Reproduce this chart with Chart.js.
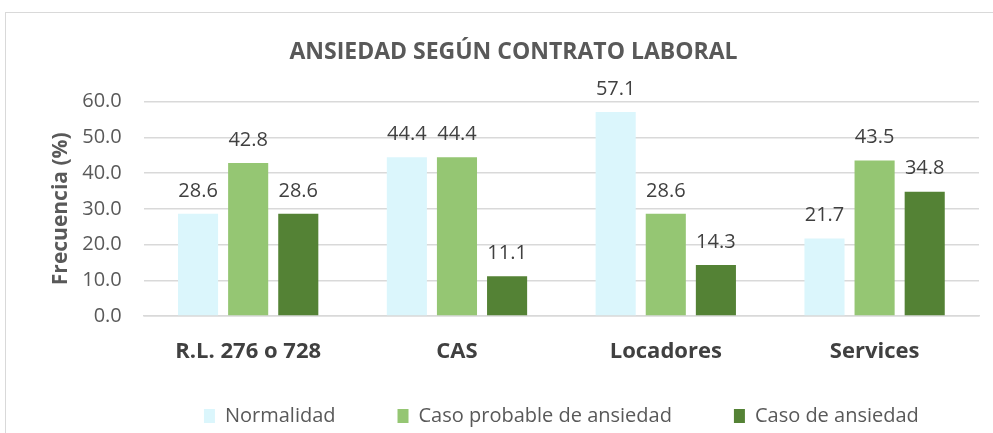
<!DOCTYPE html>
<html>
<head>
<meta charset="utf-8">
<script src="https://cdn.jsdelivr.net/npm/chart.js@4/dist/chart.umd.min.js"></script>
<style>
  body { margin: 0; background: #fff; }
  #marco { position: absolute; left: 5px; top: 12px; width: 993px; height: 430px; border: 1px solid #d9d9d9; }
  #grafico { position: absolute; left: 0; top: 0; }
</style>
</head>
<body>
<div id="marco"></div>
<canvas id="grafico" width="993" height="433"></canvas>
<script>
const categorias = ["R.L. 276 o 728", "CAS", "Locadores", "Services"];
const normalidad = [28.6, 44.4, 57.1, 21.7];
const casoProbable = [42.8, 44.4, 28.6, 43.5];
const casoAnsiedad = [28.6, 11.1, 14.3, 34.8];
const titulo = "ANSIEDAD SEGÚN CONTRATO LABORAL";
const fuente = "'Open Sans', 'Liberation Sans', sans-serif";

// etiquetas de valor encima de cada barra
const etiquetas = {
    id: "etiquetas",
    afterDatasetsDraw(chart) {
        const ctx = chart.ctx;
        ctx.save();
        ctx.font = "20px " + fuente;
        ctx.fillStyle = "#404040";
        ctx.textAlign = "center";
        ctx.textBaseline = "middle";
        chart.data.datasets.forEach((ds, i) => {
            chart.getDatasetMeta(i).data.forEach((bar, j) => {
                ctx.fillText(ds.data[j].toFixed(1), bar.x, bar.y - 23);
            });
        });
        ctx.restore();
    }
};

new Chart(document.querySelector("#grafico"), {
    type: "bar",
    data: {
        labels: categorias,
        datasets: [
            { label: "Normalidad", data: normalidad, backgroundColor: "#dbf6fc" },
            { label: "Caso probable de ansiedad", data: casoProbable, backgroundColor: "#95c673" },
            { label: "Caso de ansiedad", data: casoAnsiedad, backgroundColor: "#548235" }
        ]
    },
    options: {
        responsive: false,
        animation: false,
        layout: { padding: { left: 48, right: 14, top: 39, bottom: -3 } },
        datasets: { bar: { barPercentage: 0.8, categoryPercentage: 0.72 } },
        plugins: {
            title: {
                display: true,
                text: titulo,
                color: "#595959",
                font: { family: fuente, size: 23, weight: "bold" },
                padding: { top: 0, bottom: 35 }
            },
            legend: {
                position: "bottom",
                fullSize: false,
                labels: {
                    color: "#595959",
                    font: { family: fuente, size: 20 },
                    boxWidth: 11,
                    boxHeight: 14,
                    padding: 42,
                    // un poco mas de aire entre elementos de la leyenda
                    generateLabels: chart => {
                        const items = Chart.defaults.plugins.legend.labels.generateLabels(chart);
                        items.forEach((it, i) => { if (i < items.length - 1) it.text += "\u2002\u2002"; });
                        return items;
                    }
                }
            },
            tooltip: { enabled: false }
        },
        scales: {
            y: {
                min: 0,
                max: 60,
                ticks: {
                    stepSize: 10,
                    color: "#595959",
                    font: { family: fuente, size: 20 },
                    padding: 22,
                    callback: v => v.toFixed(1)
                },
                grid: { color: "#d9d9d9", lineWidth: 1.5, drawTicks: false },
                border: { display: false },
                title: {
                    display: true,
                    text: "Frecuencia (%)",
                    color: "#595959",
                    font: { family: fuente, size: 21, weight: "bold" },
                    padding: { top: 0, bottom: -13 }
                }
            },
            x: {
                ticks: {
                    color: "#404040",
                    font: { family: fuente, size: 22, weight: "bold" },
                    padding: 15
                },
                grid: { display: false },
                border: { color: "#d9d9d9", width: 1.5 },
                afterFit: scale => { scale.height = 48; }
            }
        }
    },
    plugins: [etiquetas]
});
</script>
</body>
</html>
